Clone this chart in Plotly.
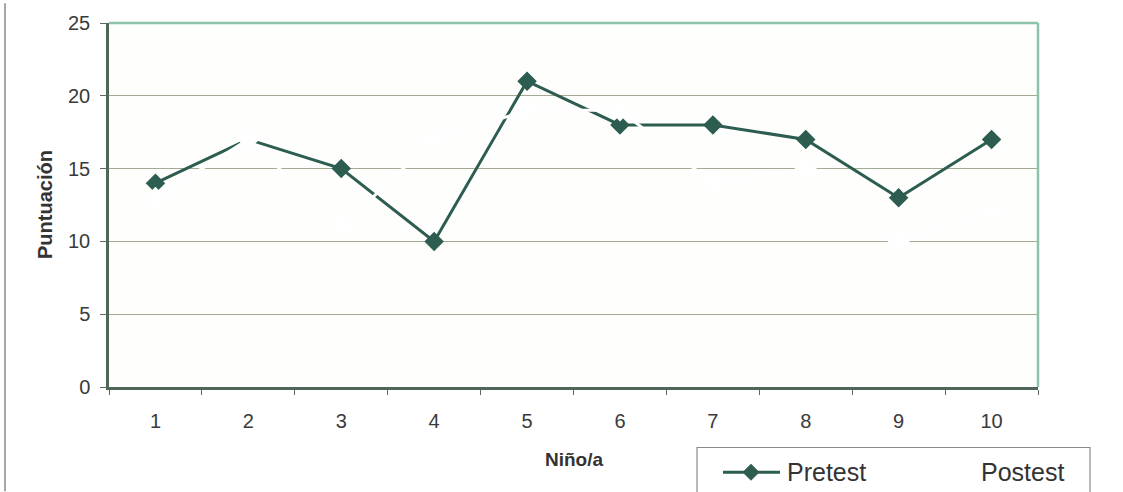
import plotly.graph_objects as go

# Scores per child, before and after
ninos = ["1", "2", "3", "4", "5", "6", "7", "8", "9", "10"]
pretest = [14, 17, 15, 10, 21, 18, 18, 17, 13, 17]
postest = [13, 17, 11, 17, 19, 19, 14, 15, 10, 12]
series_names = ["Pretest", "Postest"]

LINE = "#2d5c50"
FONT = "Liberation Sans, Arial, sans-serif"

# plot area in pixels
W, H = 1123, 492
L, R, T, B = 109, 85, 20, 105
PW, PH = W - L - R, H - T - B


def px(x):
    return (x - L) / PW


def py(y):
    return (H - B - y) / PH


fig = go.Figure()
fig.add_trace(go.Scatter(
    x=ninos, y=pretest, name=series_names[0], mode="lines+markers",
    line=dict(color=LINE, width=3),
    marker=dict(symbol="diamond", size=15, color=LINE),
))
fig.add_trace(go.Scatter(
    x=ninos, y=postest, name=series_names[1], mode="lines+markers",
    line=dict(color="#ffffff", width=3),
    marker=dict(symbol="diamond", size=17, color="#ffffff"),
))

# hand-drawn legend box below the plot, on the right
leg_y = py(473)
shapes = [
    dict(type="line", xref="x domain", yref="y domain", x0=0, x1=1, y0=1, y1=1,
         line=dict(color="#8fc2aa", width=2.5)),
    dict(type="line", xref="x domain", yref="y domain", x0=1, x1=1, y0=0, y1=1,
         line=dict(color="#8fc2aa", width=2.5)),
    dict(type="line", xref="paper", yref="paper",
         x0=px(5), x1=px(5), y0=py(H), y1=py(0),
         line=dict(color="#8a8a8a", width=1.5)),
    dict(type="rect", xref="paper", yref="paper",
         x0=px(697), x1=px(1090), y0=py(505), y1=py(448),
         line=dict(color="#8a8a8a", width=1.2), fillcolor="#ffffff", layer="above"),
    dict(type="line", xref="paper", yref="paper",
         x0=px(723), x1=px(780), y0=leg_y, y1=leg_y,
         line=dict(color=LINE, width=3), layer="above"),
    dict(type="path", xref="paper", yref="paper", layer="above",
         path=(f"M {px(751)} {py(465)} L {px(759)} {py(473)} "
               f"L {px(751)} {py(481)} L {px(743)} {py(473)} Z"),
         line=dict(color=LINE, width=1), fillcolor=LINE),
]

annotations = [
    dict(text="<b>Puntuación</b>", xref="paper", yref="paper",
         x=px(45), y=0.5, textangle=-90, showarrow=False,
         xanchor="center", yanchor="middle",
         font=dict(size=20, color="#333333")),
    dict(text="<b>Niño/a</b>", xref="paper", yref="paper",
         x=px(574), y=py(460), showarrow=False,
         xanchor="center", yanchor="middle",
         font=dict(size=19, color="#333333")),
    dict(text=series_names[0], xref="paper", yref="paper",
         x=px(785), y=leg_y, xanchor="left", yanchor="middle", showarrow=False,
         font=dict(size=25, color="#333333")),
    dict(text=series_names[1], xref="paper", yref="paper",
         x=px(979), y=leg_y, xanchor="left", yanchor="middle", showarrow=False,
         font=dict(size=25, color="#333333")),
]

fig.update_layout(
    width=W, height=H,
    margin=dict(l=L, r=R, t=T, b=B),
    paper_bgcolor="#ffffff",
    plot_bgcolor="#fefefd",
    font=dict(family=FONT, size=20, color="#3a3a3a"),
    showlegend=False,
    xaxis=dict(
        type="category",
        tickson="boundaries",
        ticks="outside", ticklen=5, tickcolor="#5a6a5a",
        showline=True, linecolor="#4f6658", linewidth=2.5,
        showgrid=False,
        tickfont=dict(size=20, color="#3a3a3a"),
        ticklabelstandoff=14,
        range=[-0.5, 9.5],
    ),
    yaxis=dict(
        range=[0, 25], dtick=5,
        ticks="outside", ticklen=6, tickcolor="#5a6a5a",
        showline=True, linecolor="#4f6658", linewidth=2.5,
        gridcolor="#a3ab94", gridwidth=1.2,
        zeroline=False,
        tickfont=dict(size=20, color="#3a3a3a"),
        ticklabelstandoff=6,
    ),
    shapes=shapes,
    annotations=annotations,
)

fig.write_html("out.html")
